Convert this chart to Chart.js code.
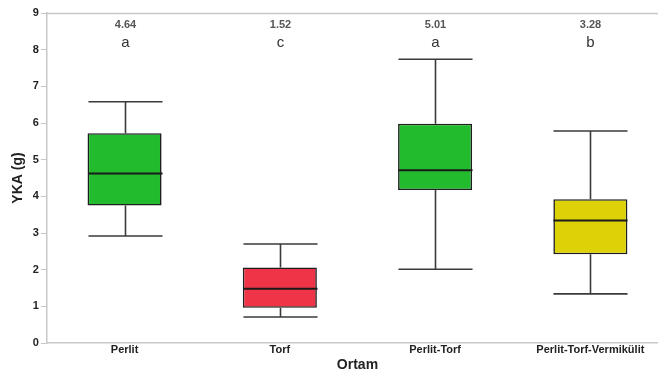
<!DOCTYPE html>
<html>
<head>
<meta charset="utf-8">
<script src="https://cdn.jsdelivr.net/npm/chart.js@4/dist/chart.umd.min.js"></script>
<style>
  html, body { margin: 0; padding: 0; background: #fff; overflow: hidden; }
  #wrap { width: 676px; height: 373px; }
</style>
</head>
<body>
<div id="wrap"><canvas id="c" width="676" height="373"></canvas></div>
<script>
// Growing media and the dry-weight distribution (YKA, g) measured in each
const categories = ['Perlit', 'Torf', 'Perlit-Torf', 'Perlit-Torf-Vermikülit'];
const whiskerMin = [2.92, 0.71, 2.01, 1.34];
const quartile1  = [3.75, 0.96, 4.17, 2.42];
const medians    = [4.62, 1.48, 4.71, 3.34];
const quartile3  = [5.72, 2.06, 5.98, 3.92];
const whiskerMax = [6.58, 2.70, 7.74, 5.78];
const means      = ['4.64', '1.52', '5.01', '3.28'];
const groups     = ['a', 'c', 'a', 'b'];
const yTicks     = [0, 1, 2, 3, 4, 5, 6, 7, 8, 9];

const boxColors = ['#22bb2e', '#ee3446', '#22bb2e', '#dcd207'];
const FONT = '"Liberation Sans", Arial, sans-serif';

// Whiskers, caps, medians and the group annotations above each box
const boxPlotExtras = {
  id: 'boxPlotExtras',
  afterDatasetsDraw(chart) {
    const ctx = chart.ctx;
    const x = chart.scales.x, y = chart.scales.y;
    const meta = chart.getDatasetMeta(0);
    const area = chart.chartArea;
    ctx.save();
    // top frame line
    ctx.strokeStyle = '#c8c8c8';
    ctx.lineWidth = 1.5;
    ctx.beginPath();
    ctx.moveTo(area.left, area.top + 0.5);
    ctx.lineTo(area.right, area.top + 0.5);
    ctx.stroke();

    categories.forEach((c, i) => {
      const cx = Math.round(x.getPixelForValue(i)) + 0.5;
      const w = meta.data[i].width;
      const l = cx - w / 2, r = cx + w / 2;
      const pMin = y.getPixelForValue(whiskerMin[i]);
      const pQ1 = y.getPixelForValue(quartile1[i]);
      const pMed = y.getPixelForValue(medians[i]);
      const pQ3 = y.getPixelForValue(quartile3[i]);
      const pMax = y.getPixelForValue(whiskerMax[i]);

      ctx.strokeStyle = '#3a3a3a';
      ctx.lineWidth = 1.6;
      ctx.beginPath();
      ctx.moveTo(cx, pQ3); ctx.lineTo(cx, pMax);
      ctx.moveTo(cx, pQ1); ctx.lineTo(cx, pMin);
      ctx.moveTo(l, pMax); ctx.lineTo(r, pMax);
      ctx.moveTo(l, pMin); ctx.lineTo(r, pMin);
      ctx.stroke();

      ctx.strokeStyle = '#1a1a1a';
      ctx.lineWidth = 2;
      ctx.beginPath();
      ctx.moveTo(l, pMed); ctx.lineTo(r, pMed);
      ctx.stroke();

      ctx.textAlign = 'center';
      ctx.textBaseline = 'middle';
      ctx.fillStyle = '#555';
      ctx.font = 'bold 11px ' + FONT;
      ctx.fillText(means[i], cx, y.getPixelForValue(8.67));
      ctx.fillStyle = '#333';
      ctx.font = '15px ' + FONT;
      ctx.fillText(groups[i], cx, y.getPixelForValue(8.18));
    });
    ctx.restore();
  }
};

new Chart(document.getElementById('c'), {
  type: 'bar',
  data: {
    labels: categories,
    datasets: [{
      data: categories.map((c, i) => [quartile1[i], quartile3[i]]),
      backgroundColor: boxColors,
      borderColor: '#1e1e1e',
      borderWidth: 1.6,
      borderSkipped: false,
      barPercentage: 0.477,
      categoryPercentage: 1.0
    }]
  },
  options: {
    responsive: false,
    animation: false,
    layout: { padding: { top: 13, right: 8, left: 10, bottom: 0 } },
    plugins: { legend: { display: false }, tooltip: { enabled: false } },
    scales: {
      x: {
        offset: true,
        afterFit: s => { s.height = 30; },
        grid: { display: true, drawOnChartArea: false, drawTicks: false },
        border: { color: '#c8c8c8', width: 1.5 },
        ticks: {
          color: '#222',
          padding: 0,
          font: { family: FONT, size: 11, weight: 'bold' }
        },
        title: {
          display: true,
          text: 'Ortam',
          color: '#222',
          padding: { top: 0, bottom: -1 },
          font: { family: FONT, size: 14, weight: 'bold' }
        }
      },
      y: {
        min: 0,
        max: 9,
        afterBuildTicks: s => { s.ticks = yTicks.map(v => ({ value: v })); },
        grid: { drawOnChartArea: false, tickLength: 6, color: '#c8c8c8' },
        border: { color: '#c8c8c8', width: 1.5 },
        ticks: {
          color: '#222',
          padding: 2,
          font: { family: FONT, size: 11, weight: 'bold' }
        },
        title: {
          display: true,
          text: 'YKA (g)',
          color: '#222',
          padding: { top: 0, bottom: 4 },
          font: { family: FONT, size: 14, weight: 'bold' }
        }
      }
    }
  },
  plugins: [boxPlotExtras]
});
</script>
</body>
</html>
